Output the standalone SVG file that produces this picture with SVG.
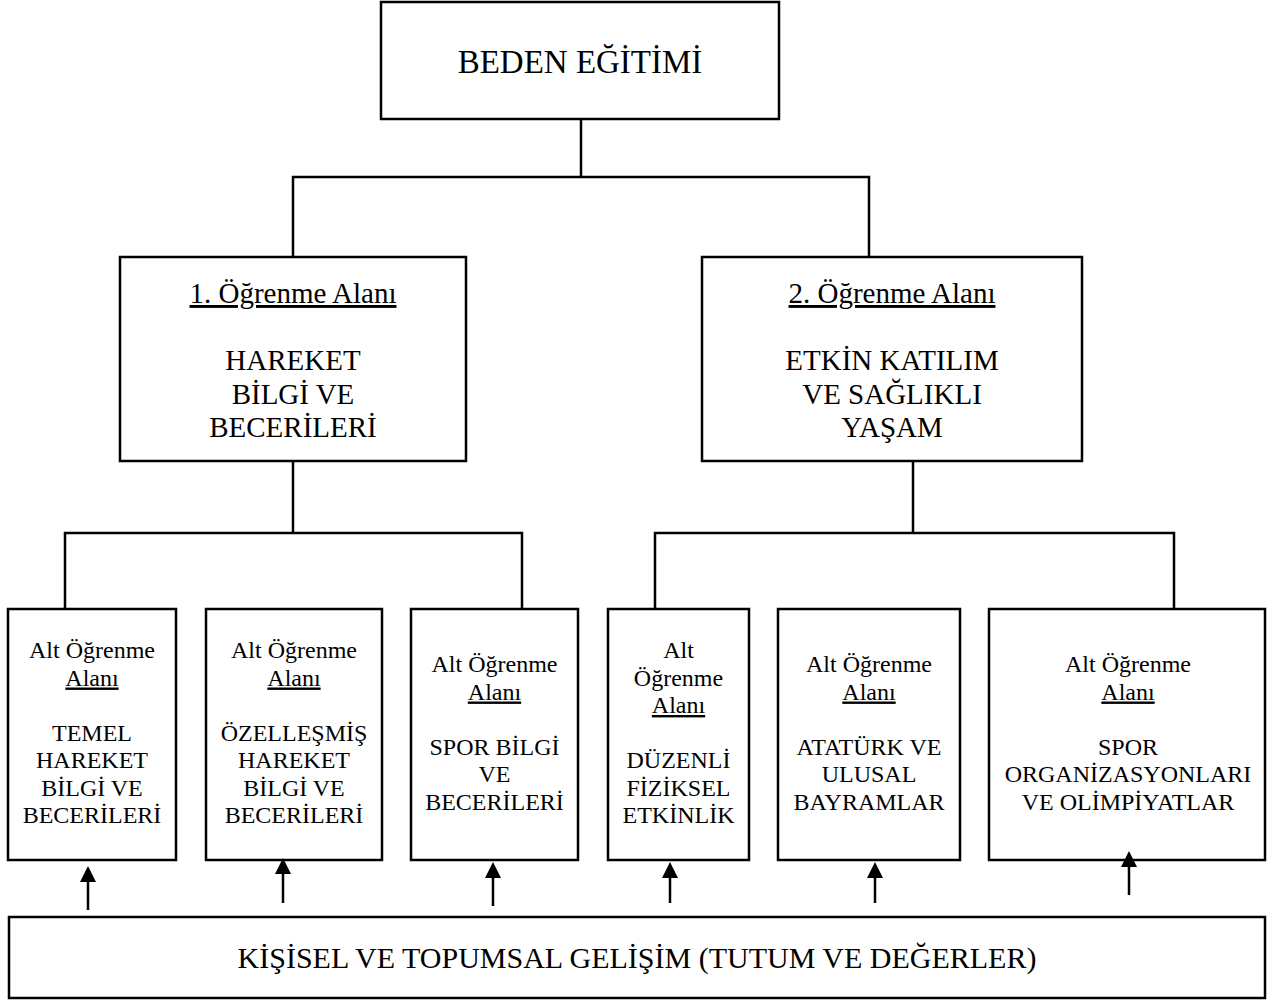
<svg xmlns="http://www.w3.org/2000/svg" width="1280" height="1000" viewBox="0 0 1280 1000">
  <defs>
    <style>
      .box { fill: #fff; stroke: #000; stroke-width: 2.5; }
      .conn { fill: none; stroke: #000; stroke-width: 2.5; }
      .arr { fill: none; stroke: #000; stroke-width: 2.5; marker-end: url(#ah); }
      text { font-family: "Liberation Serif", "Times New Roman", serif; fill: #000; text-anchor: middle; }
      .t1 { font-size: 33px; }
      .t2 { font-size: 29px; }
      .t3 { font-size: 24px; }
      .t4 { font-size: 30px; }
      .u { text-decoration: underline; }
    </style>
    <marker id="ah" viewBox="0 0 16 16" refX="12" refY="8" markerWidth="16" markerHeight="16" markerUnits="userSpaceOnUse" orient="auto">
      <path d="M0,0 L16,8 L0,16 z" fill="#000"/>
    </marker>
  </defs>
  <rect width="1280" height="1000" fill="#fff"/>

  <g id="beden">
    <rect class="box" x="381" y="2" width="398" height="117"/>
    <text class="t1" x="580" y="73">BEDEN EĞİTİMİ</text>
  </g>

  <g id="alan1">
    <rect class="box" x="120" y="257" width="346" height="204"/>
    <text class="t2 u" x="293" y="303">1. Öğrenme Alanı</text>
    <text class="t2" x="293" y="370">HAREKET</text>
    <text class="t2" x="293" y="403.5">BİLGİ VE</text>
    <text class="t2" x="293" y="437">BECERİLERİ</text>
  </g>

  <g id="alan2">
    <rect class="box" x="702" y="257" width="380" height="204"/>
    <text class="t2 u" x="892" y="303">2. Öğrenme Alanı</text>
    <text class="t2" x="892" y="370">ETKİN KATILIM</text>
    <text class="t2" x="892" y="403.5">VE SAĞLIKLI</text>
    <text class="t2" x="892" y="437">YAŞAM</text>
  </g>

  <g id="alt1">
    <rect class="box" x="8" y="609" width="168" height="251"/>
    <text class="t3" x="92" y="658">Alt Öğrenme</text>
    <text class="t3 u" x="92" y="685.5">Alanı</text>
    <text class="t3" x="92" y="740.5">TEMEL</text>
    <text class="t3" x="92" y="768">HAREKET</text>
    <text class="t3" x="92" y="795.5">BİLGİ VE</text>
    <text class="t3" x="92" y="823">BECERİLERİ</text>
  </g>

  <g id="alt2">
    <rect class="box" x="206" y="609" width="176" height="251"/>
    <text class="t3" x="294" y="658">Alt Öğrenme</text>
    <text class="t3 u" x="294" y="685.5">Alanı</text>
    <text class="t3" x="294" y="740.5">ÖZELLEŞMİŞ</text>
    <text class="t3" x="294" y="768">HAREKET</text>
    <text class="t3" x="294" y="795.5">BİLGİ VE</text>
    <text class="t3" x="294" y="823">BECERİLERİ</text>
  </g>

  <g id="alt3">
    <rect class="box" x="411" y="609" width="167" height="251"/>
    <text class="t3" x="494.5" y="672">Alt Öğrenme</text>
    <text class="t3 u" x="494.5" y="699.5">Alanı</text>
    <text class="t3" x="494.5" y="754.5">SPOR BİLGİ</text>
    <text class="t3" x="494.5" y="782">VE</text>
    <text class="t3" x="494.5" y="809.5">BECERİLERİ</text>
  </g>

  <g id="alt4">
    <rect class="box" x="608" y="609" width="141" height="251"/>
    <text class="t3" x="678.5" y="658">Alt</text>
    <text class="t3" x="678.5" y="685.5">Öğrenme</text>
    <text class="t3 u" x="678.5" y="713">Alanı</text>
    <text class="t3" x="678.5" y="768">DÜZENLİ</text>
    <text class="t3" x="678.5" y="795.5">FİZİKSEL</text>
    <text class="t3" x="678.5" y="823">ETKİNLİK</text>
  </g>

  <g id="alt5">
    <rect class="box" x="778" y="609" width="182" height="251"/>
    <text class="t3" x="869" y="672">Alt Öğrenme</text>
    <text class="t3 u" x="869" y="699.5">Alanı</text>
    <text class="t3" x="869" y="754.5">ATATÜRK VE</text>
    <text class="t3" x="869" y="782">ULUSAL</text>
    <text class="t3" x="869" y="809.5">BAYRAMLAR</text>
  </g>

  <g id="alt6">
    <rect class="box" x="989" y="609" width="276" height="251"/>
    <text class="t3" x="1128" y="672">Alt Öğrenme</text>
    <text class="t3 u" x="1128" y="699.5">Alanı</text>
    <text class="t3" x="1128" y="754.5">SPOR</text>
    <text class="t3" x="1128" y="782">ORGANİZASYONLARI</text>
    <text class="t3" x="1128" y="809.5">VE OLİMPİYATLAR</text>
  </g>

  <g id="gelisim">
    <rect class="box" x="9" y="917" width="1256" height="81"/>
    <text class="t4" x="637" y="968">KİŞİSEL VE TOPUMSAL GELİŞİM (TUTUM VE DEĞERLER)</text>
  </g>

  <g id="connectors">
    <path class="conn" d="M581,119 V177"/>
    <path class="conn" d="M293,257 V177 H869 V257"/>
    <path class="conn" d="M293,461 V533"/>
    <path class="conn" d="M65,609 V533 H522 V609"/>
    <path class="conn" d="M913,461 V533"/>
    <path class="conn" d="M655,609 V533 H1174 V609"/>
    <path class="arr" d="M88,910 V870"/>
    <path class="arr" d="M283,903 V862"/>
    <path class="arr" d="M493,906 V866"/>
    <path class="arr" d="M670,903 V866"/>
    <path class="arr" d="M875,903 V866"/>
    <path class="arr" d="M1129,895 V855"/>
  </g>
</svg>
